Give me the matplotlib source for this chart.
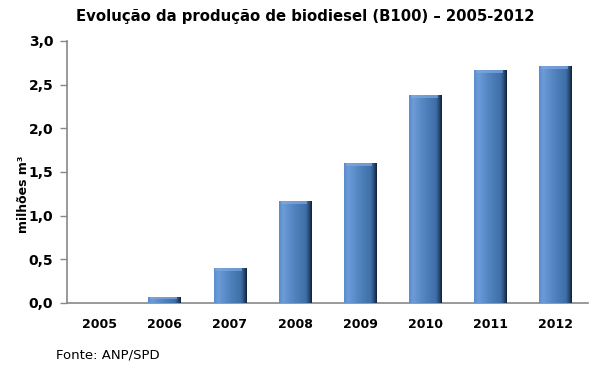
import matplotlib
matplotlib.use("Agg")
import matplotlib.pyplot as plt
import numpy as np
from matplotlib.colors import LinearSegmentedColormap

years = ["2005", "2006", "2007", "2008", "2009", "2010", "2011", "2012"]
values = [0.001, 0.069, 0.404, 1.167, 1.608, 2.386, 2.673, 2.717]
yticks = [0.0, 0.5, 1.0, 1.5, 2.0, 2.5, 3.0]
ytick_labels = ["0,0", "0,5", "1,0", "1,5", "2,0", "2,5", "3,0"]

plt.rcParams['font.family'] = ['DejaVu Sans']

fig = plt.figure(figsize=(6, 3.72), dpi=100)
ax = fig.add_axes([0.1117, 0.1855, 0.8683, 0.7043])

x = np.arange(len(years))
width = 0.5
bars = ax.bar(x, values, width=width, color="#4F81BD", edgecolor="none", zorder=2)

cmap = LinearSegmentedColormap.from_list(
    "bev", [(0.0, "#5A8BCB"), (0.12, "#6C9BD8"), (0.5, "#4F81BD"),
            (0.82, "#3F6FA8"), (0.92, "#2A4C78"), (1.0, "#10213A")])
grad = np.linspace(0, 1, 64).reshape(1, -1)
for b in bars:
    bx, by = b.get_x(), b.get_y()
    bw, bh = b.get_width(), b.get_height()
    if bh <= 0.002:
        continue
    im = ax.imshow(grad, cmap=cmap, aspect="auto",
                   extent=[bx, bx + bw, by, by + bh], zorder=3,
                   interpolation="bilinear")
    im.set_clip_path(b)
    cap = min(0.035, bh * 0.3)
    ax.fill_between([bx + 0.03, bx + bw - 0.06], by + bh - cap, by + bh,
                    color="#7FA9DF", alpha=0.7, zorder=4, linewidth=0)

ax.set_xlim(-0.5, len(years) - 0.5)
ax.set_ylim(0, 3.0)
ax.set_yticks(yticks)
ax.set_yticklabels(ytick_labels, fontsize=10, fontweight="bold")
ax.set_xticks(x)
ax.set_xticklabels(years, fontsize=9, fontweight="bold")
ax.tick_params(axis="x", length=0, pad=11)
ax.tick_params(axis="y", length=5, color="#888888", width=1, pad=5)

for s in ["top", "right"]:
    ax.spines[s].set_visible(False)
for s in ["left", "bottom"]:
    ax.spines[s].set_color("#888888")
    ax.spines[s].set_linewidth(1.2)

ax.set_ylabel("milhões m³", fontsize=9, fontweight="bold")
ax.yaxis.set_label_coords(-0.072, 0.415)

fig.text(0.508, 0.955, "Evolução da produção de biodiesel (B100) – 2005-2012",
         ha="center", va="center", fontsize=10.7, fontweight="bold")
fig.text(0.093, 0.045, "Fonte: ANP/SPD", ha="left", va="center", fontsize=9.5)

fig.savefig("out.png", dpi=100)
